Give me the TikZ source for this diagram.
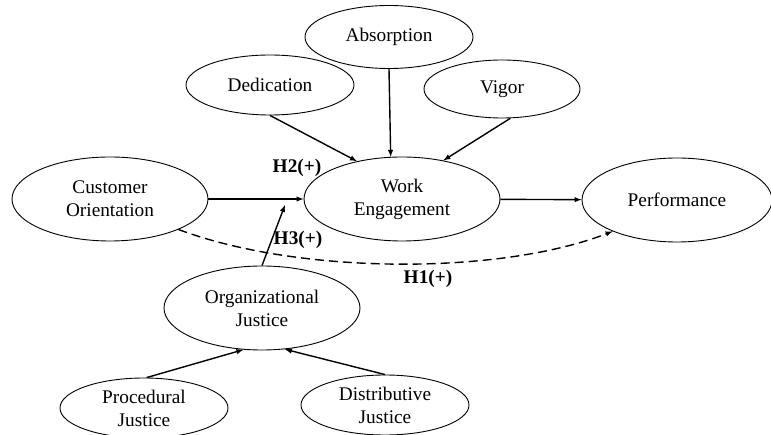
\documentclass[tikz,border=0pt]{standalone}
\usepackage{fontspec}
\setmainfont{Liberation Serif}
\usepackage{tikz}
\usetikzlibrary{shapes.geometric, arrows}
\tikzset{
  lv/.style={ellipse, inner sep=0pt, text centered, align=center, draw=black, line width=0.9pt, font=\fontsize{19.3}{23}\selectfont},
  lvs/.style={lv, minimum width=168pt, minimum height=60pt},
  lvb/.style={lv, minimum width=196pt, minimum height=84pt},
  hy/.style={font=\fontsize{19.3}{23}\selectfont\bfseries},
  ar/.style={-latex, line width=1.4pt}
}
\begin{document}
\begin{tikzpicture}[x=1pt,y=-1pt]
	\useasboundingbox (0,0) rectangle (771,435);
	\node[lvs, minimum width=168pt, minimum height=63pt] (abs) at (389,37) {Absorption};
	\node[lvs] (ded) at (270,85) {Dedication};
	\node[lvs, minimum width=156pt, minimum height=58pt] (vig) at (502,89) {Vigor};
	\node[lvb] (we) at (402,199) {Work\\Engagement};
	\node[lvb] (co) at (110,199) {Customer\\Orientation};
	\node[lvb, minimum width=190pt] (perf) at (677,200) {Performance};
	\node[lvb] (oj) at (262,308) {Organizational\\Justice};
	\node[lvs] (proc) at (144,408) {Procedural\\Justice};
	\node[lvs] (dist) at (385,405) {Distributive\\Justice};
	%
	\node[hy] (h2) at (297,168) {H2(+)};
	\node[hy] (h3) at (298,240) {H3(+)};
	\node[hy] (h1) at (428,279) {H1(+)};
	\coordinate (mod) at (285,205);
	%
	\draw[ar] (ded.south) -- (we.140);
	\draw[ar] (abs.south) -- (we.105);
	\draw[ar] (vig.-74) -- (we.43);
	\draw[ar] (co) -- (we);
	\draw[ar] (we) -- (perf);
	\draw[ar] (oj.north) -- (mod);
	\draw[ar] (proc.85) -- (oj.246);
	\draw[ar] (dist.north) -- (oj.-61);
	\draw[-latex, line width=1.4pt, dash pattern=on 9pt off 5pt] (co.-24) .. controls (300,275) and (500,275) .. (perf.206);
\end{tikzpicture}
\end{document}
